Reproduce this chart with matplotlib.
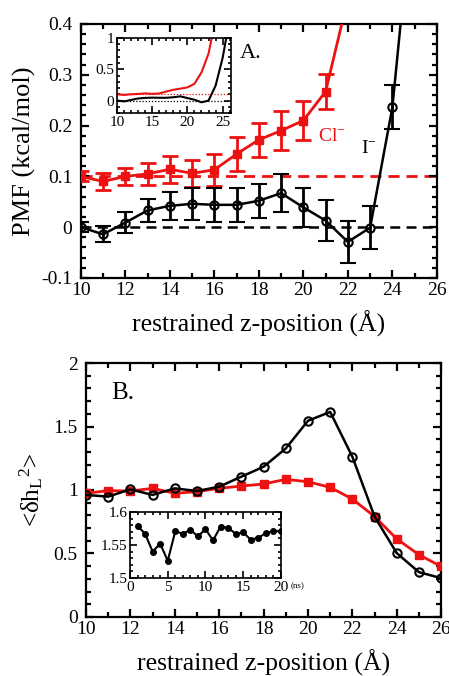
import matplotlib
matplotlib.use("Agg")
import matplotlib.pyplot as plt
from matplotlib.ticker import MultipleLocator, FixedLocator

plt.rcParams['font.family'] = ['Liberation Serif', 'DejaVu Serif']
plt.rcParams['mathtext.fontset'] = 'custom'
plt.rcParams['mathtext.rm'] = 'Liberation Serif'
plt.rcParams['mathtext.it'] = 'Liberation Serif:italic'

# ---- Panel A data (PMF, kcal/mol) ----
z_cl = [10, 11, 12, 13, 14, 15, 16, 17, 18, 19, 20, 21, 22, 23, 24]
pmf_cl = [0.100, 0.090, 0.100, 0.105, 0.114, 0.106, 0.113, 0.144, 0.172, 0.190, 0.210, 0.267, 0.45, 0.75, 1.30]
err_cl = [0.010, 0.016, 0.017, 0.021, 0.027, 0.027, 0.031, 0.034, 0.034, 0.038, 0.038, 0.034, 0.04, 0.04, 0.04]

z_i = [10, 11, 12, 13, 14, 15, 16, 17, 18, 19, 20, 21, 22, 23, 24, 25, 26]
pmf_i = [0.000, -0.014, 0.009, 0.033, 0.042, 0.046, 0.044, 0.044, 0.052, 0.067, 0.039, 0.013, -0.029, -0.001, 0.236, 0.68, 1.30]
err_i = [0.010, 0.016, 0.020, 0.023, 0.027, 0.031, 0.033, 0.033, 0.033, 0.038, 0.039, 0.040, 0.042, 0.042, 0.043, 0.045, 0.045]

# ---- Panel B data ----
z_b = [10, 11, 12, 13, 14, 15, 16, 17, 18, 19, 20, 21, 22, 23, 24, 25, 26]
dh_i = [0.961, 0.948, 1.005, 0.961, 1.013, 0.992, 1.026, 1.105, 1.183, 1.327, 1.545, 1.615, 1.262, 0.791, 0.503, 0.353, 0.306]
dh_cl = [0.974, 0.995, 0.992, 1.013, 0.974, 0.987, 1.013, 1.031, 1.047, 1.084, 1.065, 1.021, 0.929, 0.791, 0.615, 0.490, 0.398]

# inset B: time series (ns)
t_ns = list(range(1, 21))
dh_t = [1.579, 1.567, 1.540, 1.552, 1.526, 1.571, 1.567, 1.573, 1.563, 1.574,
        1.557, 1.578, 1.576, 1.567, 1.569, 1.558, 1.561, 1.568, 1.571, 1.571]

RED = '#ee1111'
fig = plt.figure(figsize=(4.49, 6.76), dpi=100)

def style(ax, lw=1.6, major=6, minor=3.5, labsize=14, pad=4):
    for s in ax.spines.values():
        s.set_linewidth(lw)
    ax.tick_params(which='both', direction='in', top=True, right=True, width=lw,
                   labelsize=labsize, pad=pad)
    ax.tick_params(which='major', length=major)
    ax.tick_params(which='minor', length=minor)

# ---------------- Panel A ----------------
axA = fig.add_axes([0.180, 0.5888, 0.793, 0.3757])
axA.axhline(0.1, color=RED, lw=2, ls=(0, (4, 2.5)), zorder=1)
axA.axhline(0.0, color='black', lw=1.8, ls=(0, (4, 2.5)), zorder=1)
axA.errorbar(z_cl, pmf_cl, yerr=err_cl, color=RED, lw=2, marker='s', ms=6,
             capsize=6, capthick=2, elinewidth=2, zorder=3)
axA.errorbar(z_i, pmf_i, yerr=err_i, color='black', lw=1.8, marker='o', ms=6,
             mfc='none', mew=1.5, capsize=6, capthick=2, elinewidth=2, zorder=4)
axA.set_xlim(10, 26)
axA.set_ylim(-0.1, 0.4)
axA.xaxis.set_major_locator(MultipleLocator(2))
axA.xaxis.set_minor_locator(MultipleLocator(1))
axA.yaxis.set_major_locator(MultipleLocator(0.1))
axA.yaxis.set_minor_locator(MultipleLocator(0.02))
style(axA)
axA.tick_params(axis='y', pad=6)
axA.tick_params(axis='x', pad=3)
axA.yaxis.set_major_formatter(plt.FuncFormatter(lambda v, p: '0' if abs(v) < 1e-9 else f'{v:.1f}'))
axA.set_xlabel('restrained z-position (Å)', fontsize=18.5, labelpad=8)
axA.set_ylabel('PMF (kcal/mol)', fontsize=19, labelpad=4)
axA.text(17.15, 0.342, 'A.', fontsize=16, va='center', ha='left')
axA.text(20.65, 0.178, 'Cl$^{\\mathregular{-}}$', color=RED, fontsize=14, va='center', ha='left')
axA.text(22.6, 0.155, 'I$^{\\mathregular{-}}$', color='black', fontsize=14, va='center', ha='left')

# inset A
inA = fig.add_axes([0.2606, 0.8328, 0.254, 0.111])
inA.axhline(0.1, color=RED, lw=0.9, ls=(0, (1, 1.5)))
inA.axhline(0.0, color='black', lw=0.9, ls=(0, (1, 1.5)))
inA.plot(z_cl, pmf_cl, color=RED, lw=1.5)
inA.plot(z_i, pmf_i, color='black', lw=1.5)
inA.set_xlim(10, 26.2)
inA.set_ylim(-0.2, 1.0)
inA.xaxis.set_major_locator(MultipleLocator(5))
inA.xaxis.set_minor_locator(MultipleLocator(1))
inA.yaxis.set_major_locator(FixedLocator([0, 0.5, 1]))
inA.yaxis.set_minor_locator(MultipleLocator(0.1))
style(inA, lw=1.2, major=5, minor=2.5, labsize=11, pad=2)
inA.yaxis.set_major_formatter(plt.FuncFormatter(lambda v, p: '%g' % v))

# ---------------- Panel B ----------------
axB = fig.add_axes([0.1915, 0.0873, 0.791, 0.3757])
axB.plot(z_b, dh_cl, color=RED, lw=2, marker='s', ms=6, zorder=3)
axB.plot(z_b, dh_i, color='black', lw=1.8, marker='o', ms=6, mfc='none', mew=1.5, zorder=4)
axB.set_xlim(10, 26)
axB.set_ylim(0, 2)
axB.xaxis.set_major_locator(MultipleLocator(2))
axB.xaxis.set_minor_locator(MultipleLocator(1))
axB.yaxis.set_major_locator(MultipleLocator(0.5))
axB.yaxis.set_minor_locator(MultipleLocator(0.1))
style(axB)
axB.tick_params(axis='y', pad=6)
axB.tick_params(axis='x', pad=3)
axB.yaxis.set_major_formatter(plt.FuncFormatter(lambda v, p: '%g' % v))
axB.set_xlabel('restrained z-position (Å)', fontsize=18.5, labelpad=8)
axB.set_ylabel('<δh$_{\\mathregular{L}}$$^{\\mathregular{2}}$>', fontsize=18, labelpad=6)
axB.text(11.15, 1.76, 'B.', fontsize=18, va='center', ha='left')

# inset B
inB = fig.add_axes([0.2895, 0.145, 0.3363, 0.0976])
inB.plot(t_ns, dh_t, color='black', lw=1.5, marker='o', ms=4)
inB.set_xlim(0, 20)
inB.set_ylim(1.5, 1.6)
inB.xaxis.set_major_locator(MultipleLocator(5))
inB.xaxis.set_minor_locator(MultipleLocator(1))
inB.yaxis.set_major_locator(FixedLocator([1.5, 1.55, 1.6]))
inB.yaxis.set_minor_locator(MultipleLocator(0.01))
style(inB, lw=1.2, major=5, minor=2.5, labsize=11, pad=2)
inB.yaxis.set_major_formatter(plt.FuncFormatter(lambda v, p: '%g' % round(v, 2)))
inB.text(1.065, -0.12, '(ns)', fontsize=6.5, va='center', ha='left',
         transform=inB.transAxes, clip_on=False)

fig.savefig('out.png', dpi=100)
